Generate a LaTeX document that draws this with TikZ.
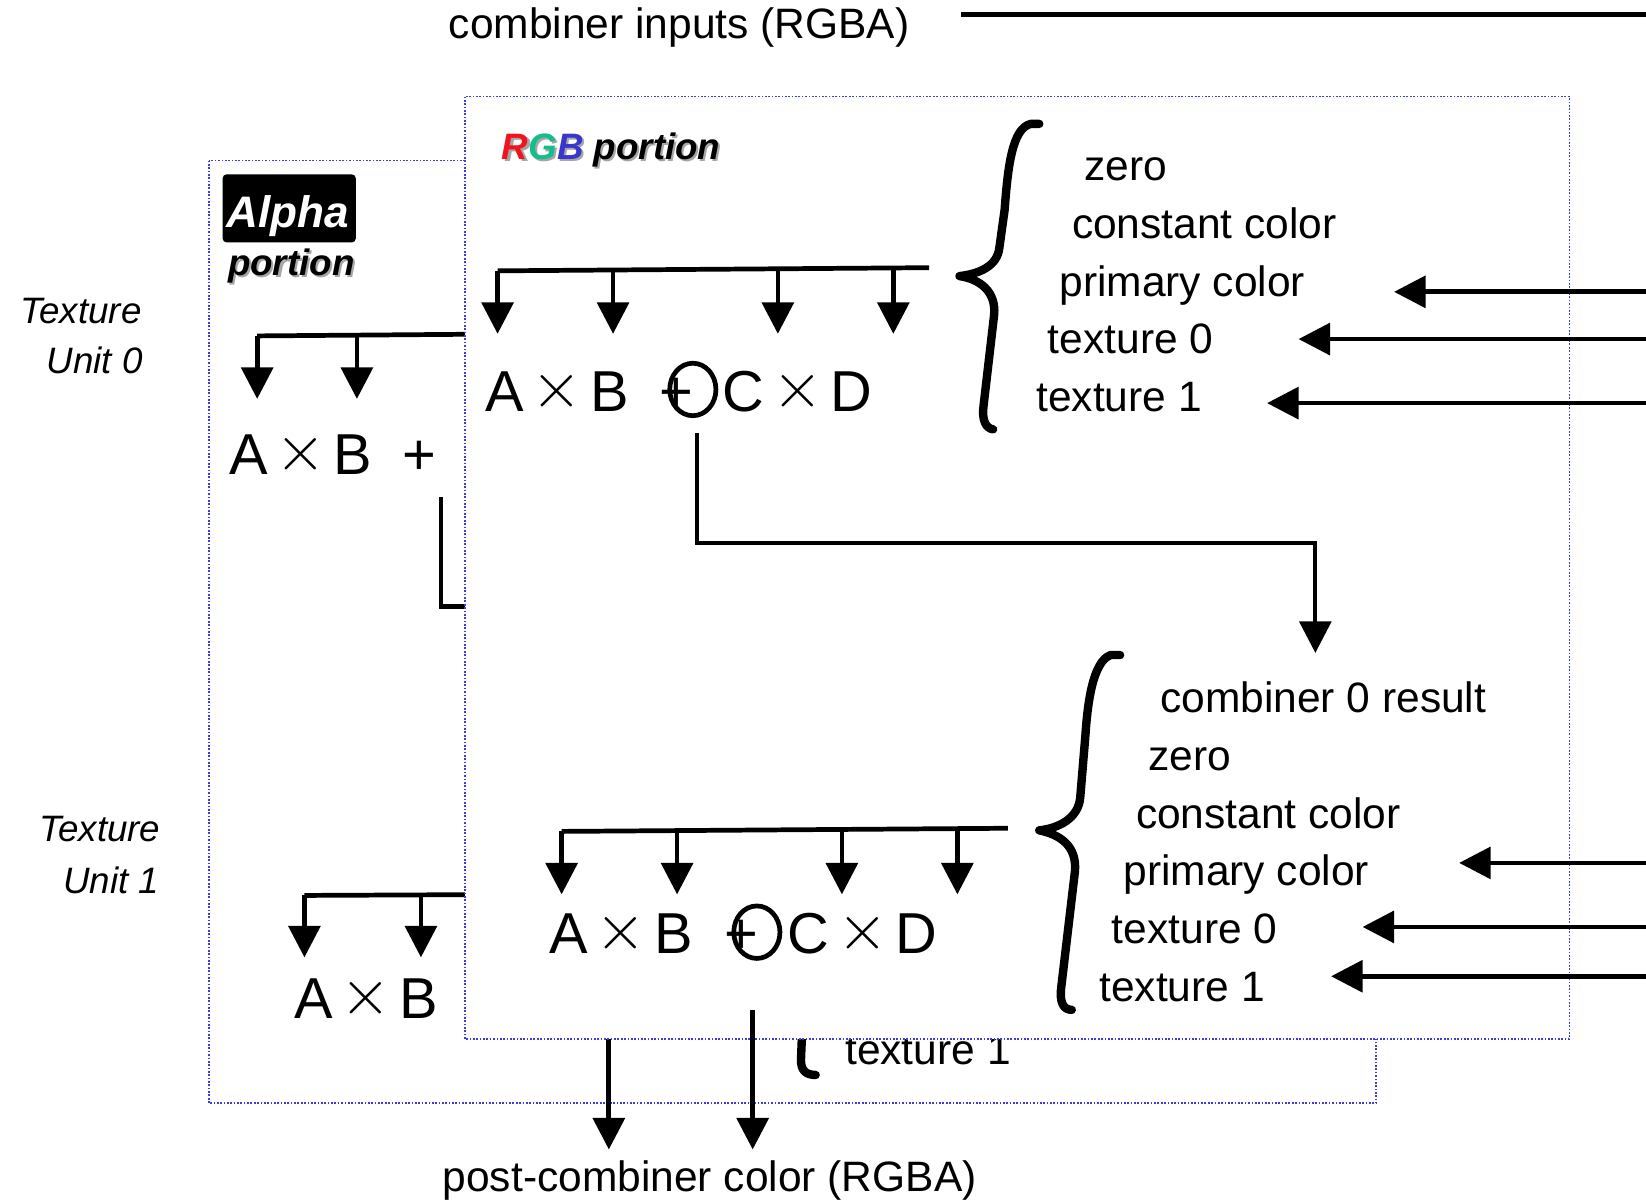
\documentclass[tikz,border=0pt]{standalone}
\usepackage{fix-cm}
\usepackage{fontspec}
\setmainfont{Liberation Sans}
\usetikzlibrary{arrows.meta,shapes.geometric}
\definecolor{dotblue}{RGB}{60,60,230}
\definecolor{rgbR}{RGB}{240,20,30}
\definecolor{rgbG}{RGB}{20,190,140}
\definecolor{rgbB}{RGB}{55,55,205}
\newcommand\bigx{\hspace{7.5pt}{\fontsize{62}{64}\selectfont\raisebox{3.5pt}{$\times$}}\hspace{7.5pt}}
\begin{document}
\begin{tikzpicture}[x=1pt,y=-1pt,
  dotbox/.style={draw=dotblue, line width=1.6pt, dash pattern=on 1.6pt off 1.6pt},
  bus/.style={line width=4.5pt},
  arr/.style={line width=4.5pt, -{Triangle[width=30pt,length=30pt]}},
  brace/.style={line width=8pt, line cap=round, line join=round},
  item/.style={anchor=base west, inner sep=0pt, font=\fontsize{40.5}{48}\selectfont},
  title/.style={anchor=base, inner sep=0pt, font=\fontsize{40.5}{48}\selectfont},
  big/.style={anchor=base west, inner sep=0pt, font=\fontsize{55}{60}\selectfont},
  lbl/.style={anchor=base east, inner sep=0pt, font=\fontsize{35}{42}\selectfont\itshape},
  portion/.style={anchor=base west, inner sep=0pt, font=\fontsize{35}{42}\selectfont\bfseries\itshape},
  ring/.style={draw, ellipse, line width=4.5pt, minimum width=44pt, minimum height=50pt, inner sep=0pt}
]
\useasboundingbox (0,0) rectangle (1568,1143);

% ---------------- Alpha portion (behind) ----------------
\draw[dotbox] (199,153) rectangle (1311,1051);
\node (alphabox) [fill=black, rounded corners=4pt, minimum width=127pt, minimum height=65pt, inner sep=0pt] at (275.5,198.5) {};
\node (alphatxt) [anchor=base, inner sep=0pt, text=white, font=\fontsize{42}{48}\selectfont\bfseries\itshape] at (274,217) {Alpha};
\node (aportsh) [portion, text=black!35] at (219,264) {portion};
\node (aport) [portion] at (217,262) {portion};

\coordinate (ab0) at (500,318);
\coordinate (ab0a) at (245,320);
\coordinate (ab0b) at (340,319.5);
\draw[bus] (ab0) -- (ab0a);
\draw[arr] (ab0a) -- (245,380);
\draw[arr] (ab0b) -- (340,380);
\node (aAB0) [big] at (218,452) {A\bigx B};
\node (aplus0) [big] at (383,452) {+};
\coordinate (al0) at (420,473);
\draw[line width=4.5pt] (al0) -- (420,578) -- (480,578);

\coordinate (ab1) at (500,852);
\coordinate (ab1a) at (290,853);
\coordinate (ab1b) at (401,852.5);
\draw[bus] (ab1) -- (ab1a);
\draw[arr] (ab1a) -- (290,912);
\draw[arr] (ab1b) -- (401,912);
\node (aAB1) [big] at (280,970) {A\bigx B};

\node (atex1) [item] at (805,1014) {texture 1};
\draw[brace] (764,985) -- (763,1010) .. controls (763,1020) and (768,1024) .. (777,1024);

\coordinate (aout) at (580,960);
\coordinate (aoutend) at (580,1095);
\draw[arr] (aout) -- (aoutend);

% ---------------- RGB portion (front) ----------------
\draw[dotbox, fill=white] (443,92) rectangle (1495,990);
\node (rgbsh) [portion, text=black!35] at (480,154) {RGB portion};
\node (rgbtitle) [portion] at (478,152) {\textcolor{rgbR}{R}\textcolor{rgbG}{G}\textcolor{rgbB}{B} portion};

% combiner 0
\coordinate (b0) at (885,255);
\coordinate (b0a) at (474,258);
\draw[bus] (b0) -- (b0a);
\draw[arr] (b0a) -- (474,318);
\draw[arr] (584,257.2) -- (584,318);
\draw[arr] (741,256) -- (741,318);
\draw[arr] (851,255.3) -- (851,318);
\node (AB0) [big] at (462,392) {A\bigx B};
\node (plus0) [big] at (628,392) {+};
\node (ring0) [ring] at (660,371) {};
\node (CD0) [big] at (688,392) {C\bigx D};

\draw[brace] (990,118) -- (982,118) .. controls (964,122) and (960,160) .. (957,200) -- (952,236) .. controls (950,254) and (932,261) .. (914,263) .. controls (934,266) and (949,278) .. (947,300) -- (937,386) .. controls (935,400) and (939,408) .. (946,409);
\node (z0) [item] at (1033,172) {zero};
\node (cc0) [item] at (1021,227) {constant color};
\node (pc0) [item] at (1009,282) {primary color};
\node (t00) [item] at (998,337) {texture 0};
\node (t10) [item] at (987,392) {texture 1};

\coordinate (out0) at (664,412);
\coordinate (in1) at (1253,622);
\draw[arr, line width=4pt] (out0) -- (664,517) -| (in1);

% combiner 1
\coordinate (b1) at (960,789);
\coordinate (b1a) at (535,792);
\draw[bus] (b1) -- (b1a);
\draw[arr] (b1a) -- (535,852);
\draw[arr] (645,791.2) -- (645,852);
\draw[arr] (802,790) -- (802,852);
\draw[arr] (912,789.3) -- (912,852);
\node (AB1) [big] at (523,908) {A\bigx B};
\node (plus1) [big] at (690,908) {+};
\node (ring1) [ring] at (721,888) {};
\node (CD1) [big] at (750,908) {C\bigx D};

\draw[brace] (1067,624) -- (1058,624) .. controls (1041,630) and (1036,670) .. (1034,700) -- (1029,760) .. controls (1027,780) and (1008,789) .. (990,791) .. controls (1010,795) and (1026,806) .. (1024,830) -- (1011,940) .. controls (1009,955) and (1013,962) .. (1021,962);
\node (c0r) [item] at (1105,679) {combiner 0 result};
\node (z1) [item] at (1094,734) {zero};
\node (cc1) [item] at (1082,789) {constant color};
\node (pc1) [item] at (1070,844) {primary color};
\node (t01) [item] at (1059,899) {texture 0};
\node (t11) [item] at (1047,954) {texture 1};

\coordinate (out1) at (717,962);
\coordinate (out1end) at (717,1095);
\draw[arr] (out1) -- (out1end);

% ---------------- outside ----------------
\node (cin) [title] at (647,37) {combiner inputs (RGBA)};
\coordinate (cinl) at (915,14);
\coordinate (cinr) at (1568,14);
\draw[line width=4.5pt] (cinl) -- (cinr);

\coordinate (r1) at (1568,278);  \coordinate (r1t) at (1328,278);
\coordinate (r2) at (1568,323);  \coordinate (r2t) at (1237,323);
\coordinate (r3) at (1568,384);  \coordinate (r3t) at (1207,384);
\coordinate (r4) at (1568,822);  \coordinate (r4t) at (1390,822);
\coordinate (r5) at (1568,883);  \coordinate (r5t) at (1298,883);
\coordinate (r6) at (1568,930);  \coordinate (r6t) at (1268,930);
\foreach \a in {1,...,6} {\draw[arr] (r\a) -- (r\a t);}

\node (post) [title] at (676,1135) {post-combiner color (RGBA)};

\node (tu0a) [lbl] at (135,308) {Texture};
\node (tu0b) [lbl] at (136,356) {Unit 0};
\node (tu1a) [lbl] at (153,802) {Texture};
\node (tu1b) [lbl] at (152,851) {Unit 1};
\end{tikzpicture}
\end{document}
